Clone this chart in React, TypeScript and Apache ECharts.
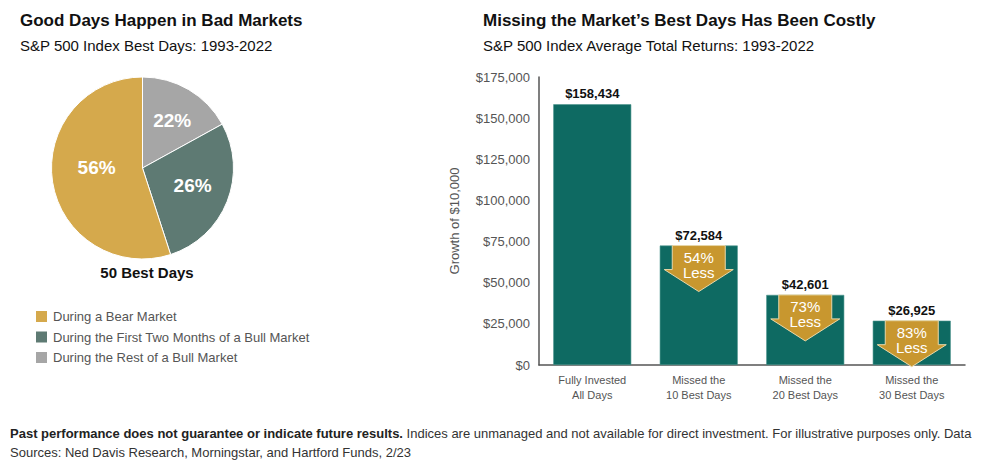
import React, { useEffect, useRef } from "react";
import * as echarts from "echarts";

const pieNames = ["During the Rest of a Bull Market", "During the First Two Months of a Bull Market", "During a Bear Market"];
const pieValues = [17, 28, 55];
const pieLabels = ["22%", "26%", "56%"];
const pieColors = ["#A6A6A6", "#5E7A73", "#D5A94C"];
const legendOrder = ["During a Bear Market", "During the First Two Months of a Bull Market", "During the Rest of a Bull Market"];

const barCategories = ["Fully Invested\nAll Days", "Missed the\n10 Best Days", "Missed the\n20 Best Days", "Missed the\n30 Best Days"];
const barValues = [158434, 72584, 42601, 26925];
const arrowLabels = ["", "54%\nLess", "73%\nLess", "83%\nLess"];

const FONT = "Liberation Sans, Arial, sans-serif";
const pieLabelOffsets = [[5, -6], [5, 0], [2, -8]];

export default function App() {
  const ref = useRef<HTMLDivElement>(null);
  useEffect(() => {
    const chart = echarts.init(ref.current!, null, { renderer: "svg" });
    const arrowData = barValues
      .map((v, i) => ({ value: [i, v], label: arrowLabels[i] }))
      .filter((d) => d.label !== "");
    chart.setOption({
      animation: false,
      textStyle: { fontFamily: FONT },
      title: [
        { text: "Good Days Happen in Bad Markets", left: 15, top: 7, textStyle: { fontFamily: FONT, fontSize: 17, fontWeight: "bold", color: "#111" } },
        { text: "S&P 500 Index Best Days: 1993-2022", left: 15, top: 33, textStyle: { fontFamily: FONT, fontSize: 15, fontWeight: "normal", color: "#111" } },
        { text: "Missing the Market\u2019s Best Days Has Been Costly", left: 478, top: 7, textStyle: { fontFamily: FONT, fontSize: 17, fontWeight: "bold", color: "#111" } },
        { text: "S&P 500 Index Average Total Returns: 1993-2022", left: 478, top: 33, textStyle: { fontFamily: FONT, fontSize: 15, fontWeight: "normal", color: "#111" } },
        { text: "50 Best Days", left: 142, textAlign: "center", top: 260, textStyle: { fontFamily: FONT, fontSize: 15, fontWeight: "bold", color: "#111" } },
      ],
      legend: {
        data: legendOrder,
        orient: "vertical",
        left: 29,
        top: 304,
        icon: "rect",
        itemWidth: 13,
        itemHeight: 13,
        itemGap: 5.5,
        textStyle: { fontFamily: FONT, fontSize: 13, color: "#555" },
        selectedMode: false,
      },
      grid: { left: 539, right: 35, top: 77, bottom: 104 },
      xAxis: {
        type: "category",
        data: barCategories,
        axisLine: { lineStyle: { color: "#555", width: 1.5 } },
        axisTick: { show: false },
        axisLabel: { fontFamily: FONT, fontSize: 11, color: "#555", lineHeight: 15, margin: 7 },
      },
      yAxis: {
        type: "value",
        min: 0,
        max: 175000,
        interval: 25000,
        name: "Growth of $10,000",
        nameLocation: "middle",
        nameGap: 78,
        nameTextStyle: { fontFamily: FONT, fontSize: 13, color: "#555" },
        axisLine: { show: true, lineStyle: { color: "#555", width: 1.5 } },
        axisTick: { show: false },
        splitLine: { show: false },
        axisLabel: {
          fontFamily: FONT,
          fontSize: 13,
          color: "#555",
          margin: 9,
          formatter: (v: number) => "$" + v.toLocaleString("en-US"),
        },
      },
      series: [
        {
          type: "pie",
          center: [142.5, 168],
          radius: 91,
          startAngle: 90,
          clockwise: true,
          data: pieNames.map((n, i) => ({
            name: n,
            value: pieValues[i],
            itemStyle: { color: pieColors[i] },
            label: { offset: pieLabelOffsets[i] },
          })),
          itemStyle: { borderColor: "#fff", borderWidth: 1 },
          label: {
            position: "inside",
            formatter: (p: any) => pieLabels[p.dataIndex],
            fontFamily: FONT,
            fontSize: 19,
            fontWeight: "bold",
            color: "#fff",
          },
          labelLine: { show: false },
          emphasis: { disabled: true },
        },
        {
          type: "bar",
          data: barValues,
          barWidth: 78,
          itemStyle: { color: "#0E6A62", borderColor: "#4E958D", borderWidth: 0.6 },
          label: {
            show: true,
            position: "top",
            distance: 4,
            fontFamily: FONT,
            fontSize: 13,
            fontWeight: "bold",
            color: "#111",
            formatter: (p: any) => "$" + p.value.toLocaleString("en-US"),
          },
          emphasis: { disabled: true },
        },
        {
          type: "custom",
          data: arrowData,
          renderItem: (params: any, api: any) => {
            const idx = api.value(0);
            const val = api.value(1);
            const top = api.coord([idx, val]);
            const cx = top[0];
            const y = top[1];
            const sw = 26.5, hw = 34.5, sh = 24, hh = 22;
            const lbl = arrowData[params.dataIndex].label;
            return {
              type: "group",
              children: [
                {
                  type: "polygon",
                  shape: {
                    points: [
                      [cx - sw, y], [cx + sw, y], [cx + sw, y + sh], [cx + hw, y + sh],
                      [cx, y + sh + hh], [cx - hw, y + sh], [cx - sw, y + sh],
                    ],
                  },
                  style: { fill: "#C8972F", stroke: "#E9D8A9", lineWidth: 1 },
                },
                {
                  type: "text",
                  style: {
                    text: lbl,
                    x: cx,
                    y: y + 4,
                    align: "center",
                    verticalAlign: "top",
                    fill: "#fff",
                    fontFamily: FONT,
                    fontSize: 15,
                    lineHeight: 15,
                  },
                },
              ],
            };
          },
          z: 5,
        },
      ],
      graphic: [
        {
          type: "text",
          left: 10,
          top: 427,
          style: {
            text: "{b|Past performance does not guarantee or indicate future results.} Indices are unmanaged and not available for direct investment. For illustrative purposes only. Data",
            fontFamily: FONT,
            fontSize: 13,
            fill: "#333",
            rich: { b: { fontWeight: "bold", fontFamily: FONT, fontSize: 13, fill: "#222" } },
          },
        },
        {
          type: "text",
          left: 10,
          top: 446,
          style: {
            text: "Sources: Ned Davis Research, Morningstar, and Hartford Funds, 2/23",
            fontFamily: FONT,
            fontSize: 13,
            fill: "#333",
          },
        },
      ],
    });
    return () => chart.dispose();
  }, []);
  return <div ref={ref} style={{ width: 1000, height: 469, position: "absolute", left: 0, top: 0 }} />;
}
